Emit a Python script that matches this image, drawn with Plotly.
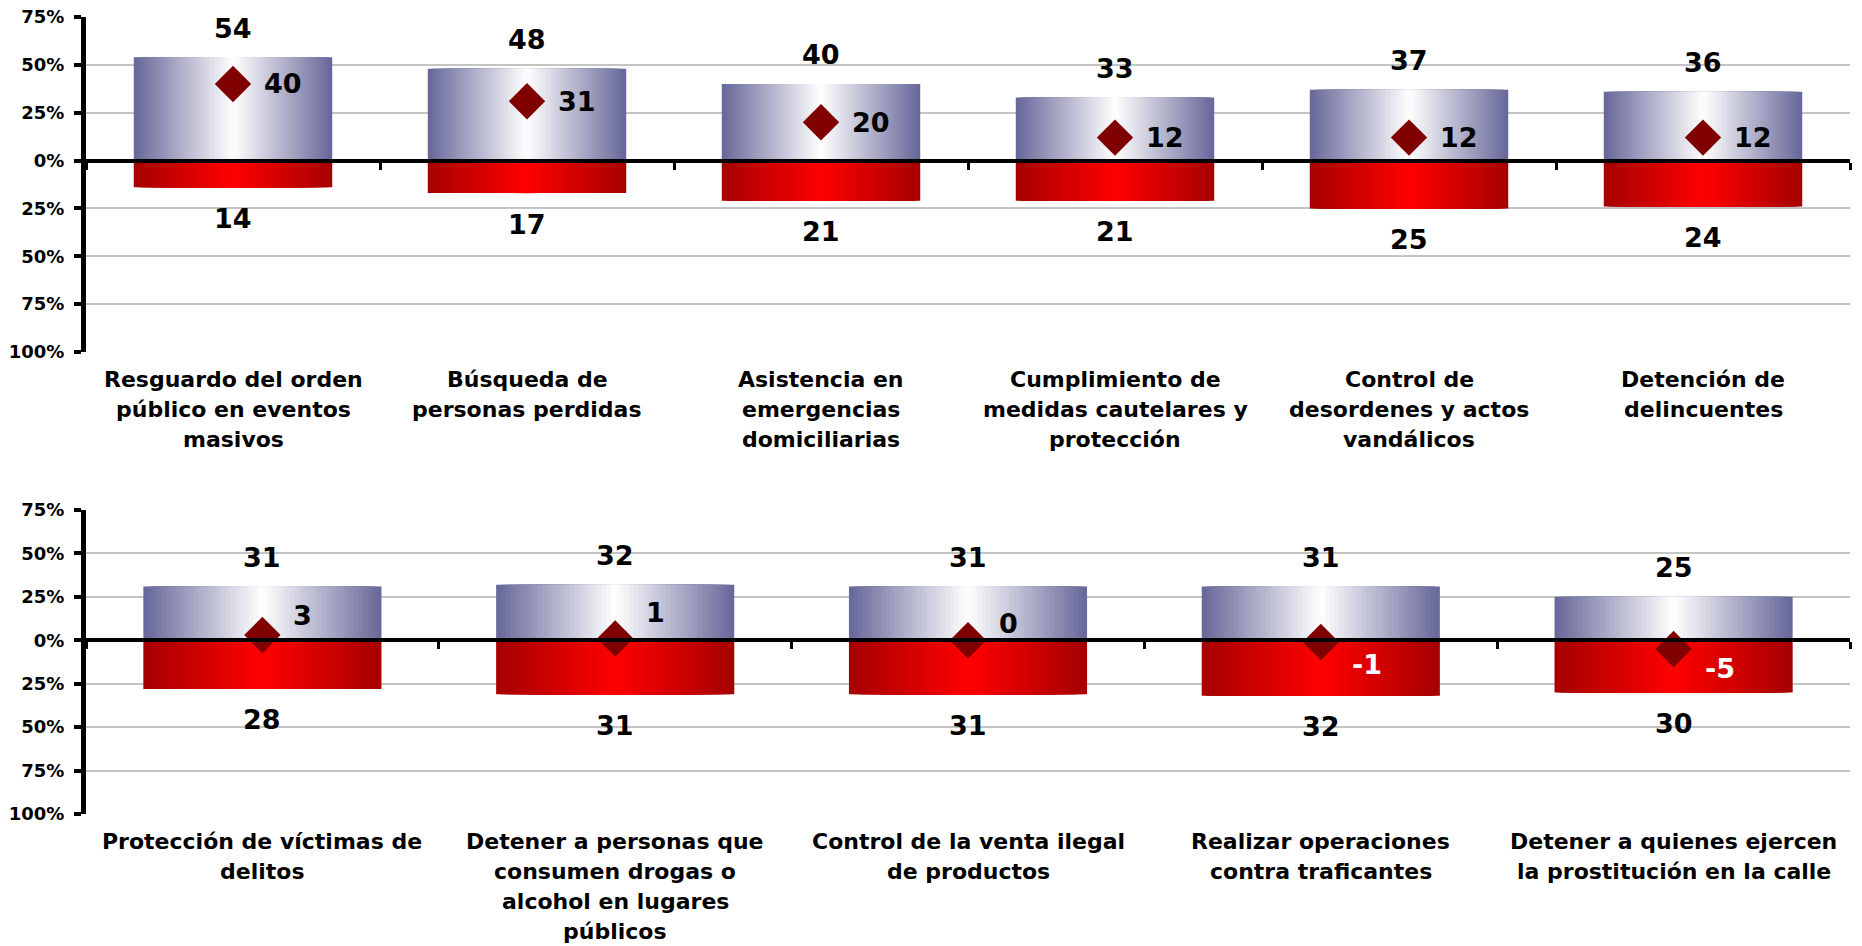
import plotly.graph_objects as go

# ---- data ---------------------------------------------------------------
CATEGORIAS_SUP = [
    "Resguardo del orden<br>público en eventos<br>masivos",
    "Búsqueda de<br>personas perdidas",
    "Asistencia en<br>emergencias<br>domiciliarias",
    "Cumplimiento de<br>medidas cautelares y<br>protección",
    "Control de<br>desordenes y actos<br>vandálicos",
    "Detención de<br>delincuentes",
]
POSITIVO_SUP = [54, 48, 40, 33, 37, 36]
NEGATIVO_SUP = [14, 17, 21, 21, 25, 24]
NETO_SUP = [40, 31, 20, 12, 12, 12]

CATEGORIAS_INF = [
    "Protección de víctimas de<br>delitos",
    "Detener a personas que<br>consumen drogas o<br>alcohol en lugares<br>públicos",
    "Control de la venta ilegal<br>de productos",
    "Realizar operaciones<br>contra traficantes",
    "Detener a quienes ejercen<br>la prostitución en la calle",
]
POSITIVO_INF = [31, 32, 31, 31, 25]
NEGATIVO_INF = [28, 31, 31, 32, 30]
NETO_INF = [3, 1, 0, -1, -5]

Y_TICKVALS = [-100, -75, -50, -25, 0, 25, 50, 75]
Y_TICKTEXT = ["100%", "75%", "50%", "25%", "0%", "25%", "50%", "75%"]

# ---- style --------------------------------------------------------------
FONT = "DejaVu Sans"
AZUL_BORDE = (102, 102, 153)
AZUL_CENTRO = (255, 255, 255)
ROJO_BORDE = (165, 0, 0)
ROJO_CENTRO = (255, 0, 0)
DIAMANTE = "#800000"
GRID = "#c4c4c4"
ANCHO_BARRA = 0.675
CAPAS = 26                      # layers used to fake the horizontal gradient
Y_RANGE = [-100, 75]

# label nudges for the net value (pixels), only the lower panel was moved by hand
NETO_YSHIFT_SUP = [0, 0, 0, 0, 0, 0]
NETO_YSHIFT_INF = [20, 26, 17, -22, -20]
NETO_COLOR_INF = ["black", "black", "black", "white", "white"]

X_DOMAIN = [86 / 1862, 1850 / 1862]
PANELES = [
    # (categorias, positivo, negativo, neto, suffix, y-domain, shifts, colors)
    (CATEGORIAS_SUP, POSITIVO_SUP, NEGATIVO_SUP, NETO_SUP, "",
     [1 - 352 / 946, 1 - 17 / 946], NETO_YSHIFT_SUP, ["black"] * 6),
    (CATEGORIAS_INF, POSITIVO_INF, NEGATIVO_INF, NETO_INF, "2",
     [1 - 814 / 946, 1 - 510 / 946], NETO_YSHIFT_INF, NETO_COLOR_INF),
]


def mezcla(c1, c2, t):
    r, g, b = (round(a + (b_ - a) * t) for a, b_ in zip(c1, c2))
    return f"rgb({r},{g},{b})"


fig = go.Figure()

for cats, pos, neg, neto, sfx, ydom, yshifts, ncolors in PANELES:
    xr, yr = "x" + sfx, "y" + sfx
    neg_vals = [-v for v in neg]

    # gradient bars: narrower and lighter layers stacked over each other
    for k in range(CAPAS):
        t = (k + 0.5) / CAPAS
        w = ANCHO_BARRA * (1 - k / CAPAS)
        for vals, c_borde, c_centro in ((pos, AZUL_BORDE, AZUL_CENTRO),
                                        (neg_vals, ROJO_BORDE, ROJO_CENTRO)):
            fig.add_trace(go.Bar(
                x=cats, y=vals, width=[w] * len(cats),
                marker=dict(color=mezcla(c_borde, c_centro, t), line=dict(width=0)),
                xaxis=xr, yaxis=yr, showlegend=False, hoverinfo="skip",
            ))

    fig.add_trace(go.Scatter(
        x=cats, y=neto, mode="markers",
        marker=dict(symbol="diamond", size=28, color=DIAMANTE, line=dict(width=0)),
        xaxis=xr, yaxis=yr, showlegend=False,
    ))

    lbl_font = dict(family=FONT, size=27, color="black", weight="bold")
    for i, c in enumerate(cats):
        fig.add_annotation(x=c, y=pos[i], xref=xr, yref=yr, text=str(pos[i]),
                           showarrow=False, yanchor="middle", yshift=29, font=lbl_font)
        fig.add_annotation(x=c, y=-neg[i], xref=xr, yref=yr, text=str(neg[i]),
                           showarrow=False, yanchor="middle", yshift=-31, font=lbl_font)
        fig.add_annotation(x=c, y=neto[i], xref=xr, yref=yr, text=str(neto[i]),
                           showarrow=False, xanchor="left", yanchor="middle",
                           xshift=29, yshift=yshifts[i],
                           font=dict(lbl_font, color=ncolors[i]))
        # category label, one annotation per line to get Excel's line spacing
        for j, linea in enumerate(c.split("<br>")):
            fig.add_annotation(x=c, y=0, xref=xr, yref=yr + " domain", text=linea,
                               showarrow=False, yanchor="middle",
                               yshift=-(27 + 30 * j),
                               font=dict(family=FONT, size=22, color="black", weight="bold"))

    # x axis sits on the zero line (drawn above the bars)
    zero_pos = ydom[0] + (ydom[1] - ydom[0]) * (0 - Y_RANGE[0]) / (Y_RANGE[1] - Y_RANGE[0])
    fig.update_layout(**{
        "xaxis" + sfx: dict(
            domain=X_DOMAIN, anchor="free", position=zero_pos,
            showline=True, linecolor="black", linewidth=4,
            ticks="outside", tickson="boundaries", ticklen=7, tickwidth=3,
            tickcolor="black", showticklabels=False, showgrid=False,
            automargin=False, fixedrange=True,
        ),
        "yaxis" + sfx: dict(
            domain=ydom, anchor=xr, range=Y_RANGE,
            tickvals=Y_TICKVALS, ticktext=Y_TICKTEXT,
            showline=True, linecolor="black", linewidth=5,
            ticks="outside", ticklen=7, tickwidth=4, tickcolor="black",
            ticklabelstandoff=6,
            tickfont=dict(family=FONT, size=18, color="black", weight="bold"),
            showgrid=True, gridcolor=GRID, gridwidth=2, zeroline=False,
            automargin=False, fixedrange=True,
        ),
    })

fig.update_layout(
    width=1862, height=946,
    margin=dict(l=0, r=0, t=0, b=0, autoexpand=False),
    barmode="overlay",
    paper_bgcolor="white", plot_bgcolor="white",
    font=dict(family=FONT, color="black"),
    showlegend=False,
)

# the page's default body margin would push the figure 8px off the window
fig.write_html("out.html", config={"displayModeBar": False},
               post_script="document.body.style.margin='0';")
